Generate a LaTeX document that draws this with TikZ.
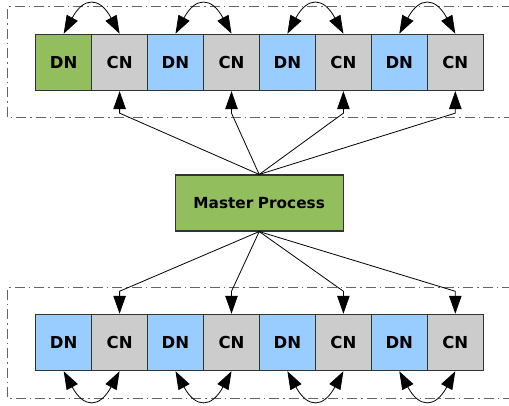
\documentclass[tikz,border=0pt]{standalone}
\usepackage{fontspec}
\setmainfont{DejaVu Sans}
\usetikzlibrary{arrows.meta,calc}
\definecolor{dngreen}{RGB}{147,190,94}
\definecolor{dnblue}{RGB}{153,204,255}
\definecolor{cngray}{RGB}{204,204,204}
\definecolor{framegray}{RGB}{100,100,100}
\tikzset{
  cell/.style={draw=black!80, line width=1.1pt, minimum width=55.95pt, minimum height=56.4pt, inner sep=0pt, font=\fontsize{16.5}{16.5}\selectfont\bfseries},
  dnA/.style={cell, fill=dngreen},
  dnB/.style={cell, fill=dnblue},
  cnB/.style={cell, fill=cngray},
  master/.style={draw=black!80, line width=1.1pt, fill=dngreen, minimum width=168.3pt, minimum height=56pt, inner sep=0pt, font=\fontsize{15.3}{15.3}\selectfont\bfseries},
  frame/.style={draw=framegray, line width=0.8pt, dash pattern=on 10pt off 4pt on 1.5pt off 4pt},
  tip/.tip={Triangle[length=18pt,width=12.5pt]},
  conn/.style={draw=black, line width=0.8pt, -tip},
  swap/.style={draw=black, line width=0.8pt, tip-tip}
}
\begin{document}
\begin{tikzpicture}[x=1pt,y=-1pt]
\useasboundingbox (0,0) rectangle (509,405);
% frames
\draw[frame] (512,6.7) -- (7.3,6.7) -- (7.3,117) -- (512,117);
\draw[frame] (512,287.3) -- (7.3,287.3) -- (7.3,398.3) -- (512,398.3);
% top row
\node[dnA] (td1) at (63.7,62.4) {DN};
\node[cnB] (tc1) at (119.6,62.4) {CN};
\node[dnB] (td2) at (175.5,62.4) {DN};
\node[cnB] (tc2) at (231.5,62.4) {CN};
\node[dnB] (td3) at (287.4,62.4) {DN};
\node[cnB] (tc3) at (343.4,62.4) {CN};
\node[dnB] (td4) at (399.3,62.4) {DN};
\node[cnB] (tc4) at (455.3,62.4) {CN};
% bottom row
\node[dnB] (bd1) at (63.7,342.5) {DN};
\node[cnB] (bc1) at (119.6,342.5) {CN};
\node[dnB] (bd2) at (175.5,342.5) {DN};
\node[cnB] (bc2) at (231.5,342.5) {CN};
\node[dnB] (bd3) at (287.4,342.5) {DN};
\node[cnB] (bc3) at (343.4,342.5) {CN};
\node[dnB] (bd4) at (399.3,342.5) {DN};
\node[cnB] (bc4) at (455.3,342.5) {CN};
% master
\node[master] (m) at (259.2,203) {Master\hspace{0.3em}Process};
% connectors master -> top CN
\foreach \c in {tc1,tc2,tc3,tc4}{
  \coordinate (w\c) at ($(\c.south)+(0,22)$);
  \draw[conn] (m.north) -- (w\c) -- (\c.south);
}
\foreach \c in {bc1,bc2,bc3,bc4}{
  \coordinate (w\c) at ($(\c.north)+(0,-22.5)$);
  \draw[conn] (m.south) -- (w\c) -- (\c.north);
}
% swap arcs
\foreach \i in {1,2,3,4}{
  \draw[swap] (td\i.north) .. controls +(20,-37) and +(-20,-37) .. (tc\i.north);
  \draw[swap] (bd\i.south) .. controls +(20,37) and +(-20,37) .. (bc\i.south);
}
\end{tikzpicture}
\end{document}
